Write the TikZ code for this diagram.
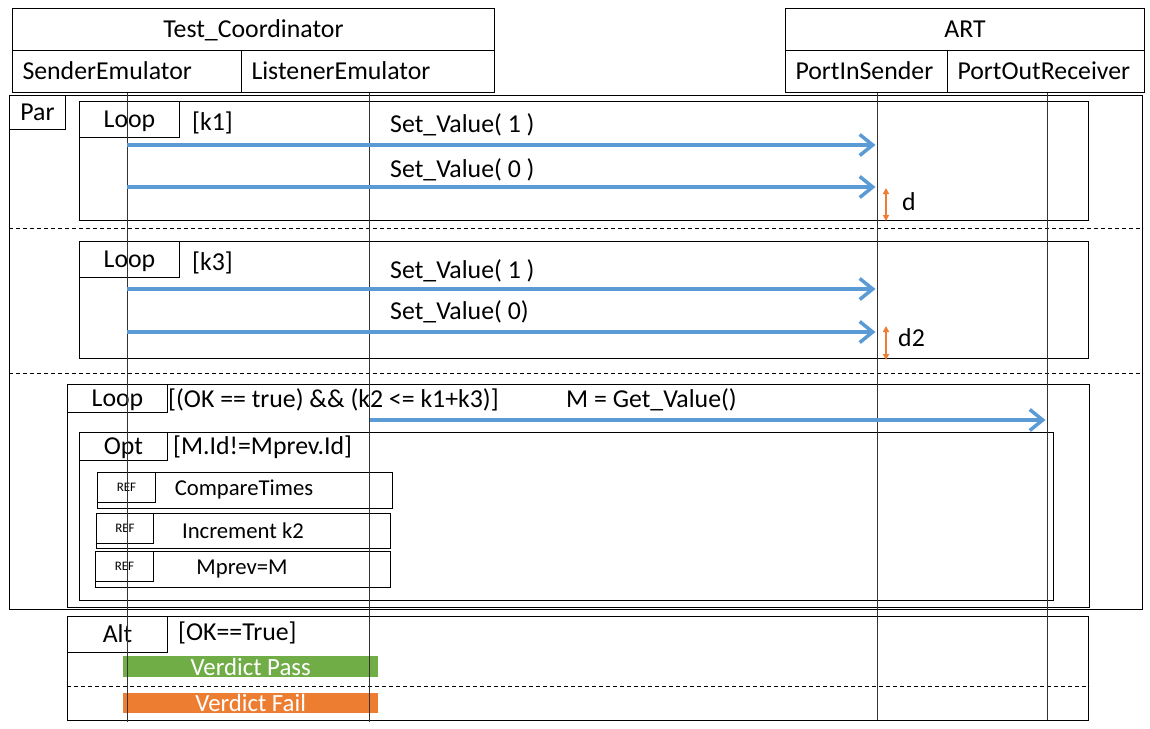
\documentclass[tikz,border=0pt]{standalone}
\usepackage{fontspec}
\setmainfont{Carlito}
\usetikzlibrary{arrows.meta, positioning}
\definecolor{msgblue}{HTML}{5B9BD5}
\definecolor{passgreen}{HTML}{70AD47}
\definecolor{failorange}{HTML}{ED7D31}

\begin{document}
\begin{tikzpicture}[x=1pt, y=-1pt, font=\fontsize{25.8}{30}\selectfont]
        % Setup the styles
        \tikzset{head box/.style={draw, line width=1, inner sep=0,
                                  text height=17, text depth=1,
                                  minimum height=42, anchor=north west},
                 part box/.style={head box, align=left, inner xsep=10},
                 frame box/.style={draw, line width=1, inner sep=0, anchor=north west},
                 tab/.style={frame box, text height=17, text depth=1},
                 ref tab/.style={frame box, font=\fontsize{13}{15}\selectfont},
                 ref text/.style={font=\fontsize{22.7}{26}\selectfont},
                 guard/.style={anchor=west, inner sep=0},
                 lifeline/.style={draw=black!80, line width=1},
                 sep line/.style={draw, line width=0.8, dash pattern=on 4pt off 3pt},
                 msg/.style={draw=msgblue, line width=3.5, shorten >=2,
                             -{Straight Barb[length=13pt, width=21pt]}},
                 gap/.style={draw=failorange, line width=1.5,
                             {Triangle[length=6pt, width=6pt]}-{Triangle[length=6pt, width=6pt]}},
                 verdict/.style={anchor=north west, inner sep=0, text=white,
                                 minimum width=255, font=\fontsize{24.8}{28}\selectfont}}
        \useasboundingbox (0,0) rectangle (1150,728);

        % Draw the heads
        \node[head box, minimum width=482] at (12,8)  (coord)    {Test\_Coordinator};
        \node[part box, text width=209]    at (12,50) (sender)   {SenderEmulator};
        \node[part box, text width=233]    at (241,50) (listener) {ListenerEmulator};
        \node[head box, minimum width=359] at (785,8) (art)      {ART};
        \node[part box, text width=142]    at (785,50) (portin)   {PortInSender};
        \node[part box, text width=177]    at (947,50) (portout)  {PortOutReceiver};

        \coordinate (send top)   at (sender.south);
        \coordinate (listen top) at ([xshift=1.5]listener.south);
        \coordinate (pin top)    at ([xshift=11]portin.south);
        \coordinate (pout top)   at ([xshift=1.5]portout.south);

        % Draw the frames
        \node[frame box, minimum width=1133, minimum height=514] at (9,95)   (par)   {};
        \node[tab, minimum width=56, minimum height=34]   at (par.north west)   (par tab)   {Par};
        \node[frame box, minimum width=1009, minimum height=119] at (79,101) (loop1) {};
        \node[tab, minimum width=100, minimum height=36]  at (loop1.north west) (loop1 tab) {Loop};
        \node[frame box, minimum width=1009, minimum height=117] at (79,241) (loop2) {};
        \node[tab, minimum width=100, minimum height=36]  at (loop2.north west) (loop2 tab) {Loop};
        \node[frame box, minimum width=1022, minimum height=223] at (67,384) (loop3) {};
        \node[tab, minimum width=100, minimum height=28]  at (loop3.north west) (loop3 tab) {Loop};
        \node[frame box, minimum width=974, minimum height=168]  at (79,432) (opt)   {};
        \node[tab, minimum width=88, minimum height=28]   at (opt.north west)   (opt tab)   {Opt};
        \node[frame box, minimum width=1021, minimum height=104] at (67,616) (alt)   {};
        \node[tab, minimum width=100, minimum height=36]  at (alt.north west)   (alt tab)   {Alt};

        \draw[sep line] (par.west |- 0,228) -- (par.east |- 0,228);
        \draw[sep line] (par.west |- 0,373) -- (par.east |- 0,373);
        \draw[sep line] (alt.west |- 0,686) -- (alt.east |- 0,686);

        % Guards and labels
        \node[guard] at (192,123) (g1) {[k1]};
        \node[guard] at (192,263) (g2) {[k3]};
        \node[guard] at (168,400) (g3) {[(OK == true) \&\& (k2 <= k1+k3)]};
        \node[guard] at (173,447) (g4) {[M.Id!=Mprev.Id]};
        \node[guard] at (178,633) (g5) {[OK==True]};

        \node[guard] at (390,125)   (m1) {Set\_Value( 1 )};
        \node[guard] at (390,169.5) (m2) {Set\_Value( 0 )};
        \node[guard] at (390,271)   (m3) {Set\_Value( 1 )};
        \node[guard] at (390,312)   (m4) {Set\_Value( 0)};
        \node[guard] at (566,400)   (m5) {M = Get\_Value()};

        % References
        \node[frame box, minimum width=295, minimum height=36] at (97,472) (ref1) {};
        \node[ref tab, minimum width=58, minimum height=30] at (ref1.north west) {REF};
        \node[ref text] at (244,490) (ref1 text) {CompareTimes};
        \node[frame box, minimum width=294, minimum height=35] at (96,513) (ref2) {};
        \node[ref tab, minimum width=57, minimum height=30] at (ref2.north west) {REF};
        \node[ref text] at (243,531) (ref2 text) {Increment k2};
        \node[frame box, minimum width=295, minimum height=36] at (95,551) (ref3) {};
        \node[ref tab, minimum width=58, minimum height=30] at (ref3.north west) {REF};
        \node[ref text] at (242,569) (ref3 text) {Mprev=M};

        % Verdicts
        \node[verdict, fill=passgreen, minimum height=21]  at (123,656) (pass) {Verdict Pass};
        \node[verdict, fill=failorange, minimum height=20] at (123,693) (fail) {Verdict Fail};

        % Lifelines
        \draw[lifeline] (send top)   -- (send top |- 0,722);
        \draw[lifeline] (listen top) -- (listen top |- 0,722);
        \draw[lifeline] (pin top)    -- (pin top |- 0,720);
        \draw[lifeline] (pout top)   -- (pout top |- 0,720);

        % Messages
        \foreach \y in {145, 187, 289, 332}
            \draw[msg] (send top |- 0,\y) -- (pin top |- 0,\y);
        \draw[msg] (listen top |- 0,420) -- (pout top |- 0,420);

        \coordinate (d top)  at (886,188);
        \coordinate (d bot)  at (886,221);
        \coordinate (d2 top) at (886,326);
        \coordinate (d2 bot) at (886,360);
        \draw[gap] (d top) -- (d bot);
        \draw[gap] (d2 top) -- (d2 bot);
        \node[guard] at (902,202) (d)  {d};
        \node[guard] at (898,338) (d2) {d2};
\end{tikzpicture}
\end{document}
